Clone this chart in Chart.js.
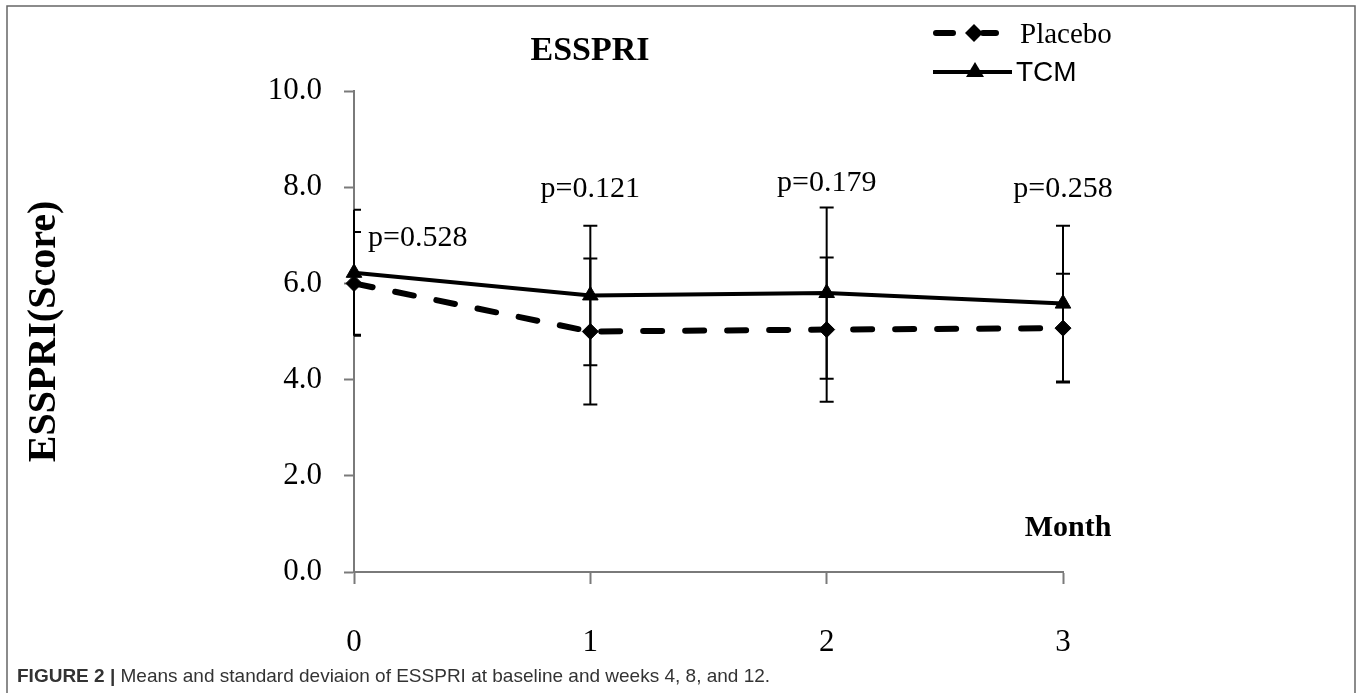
<!DOCTYPE html>
<html>
<head>
<meta charset="utf-8">
<script src="https://cdn.jsdelivr.net/npm/chart.js@4.4.1/dist/chart.umd.min.js"></script>
<style>
  html, body { margin: 0; padding: 0; background: #fff; }
  #wrap { width: 1360px; height: 693px; position: relative; }
</style>
</head>
<body>
<div id="wrap"><canvas id="myChart"></canvas></div>
<script>
// data
const months = [0, 1, 2, 3];
const yTicks = [0, 2, 4, 6, 8, 10];
const placeboMean = [6.00, 5.00, 5.04, 5.07];
const placeboSD = [1.07, 1.52, 1.50, 1.13];
const tcmMean = [6.22, 5.75, 5.80, 5.58];
const tcmSD = [1.31, 1.45, 1.78, 1.62];
const pValues = ["p=0.528", "p=0.121", "p=0.179", "p=0.258"];

const serif = "'Liberation Serif', 'Times New Roman', serif";
const sans = "'Liberation Sans', Arial, sans-serif";
const axisGray = "#7a7a7a";

// vertical SD bars with caps, drawn under the lines
const errorBars = {
  id: "errorBars",
  beforeDatasetsDraw(chart) {
    const { ctx, scales: { x, y } } = chart;
    ctx.save();
    ctx.strokeStyle = "#000";
    ctx.lineWidth = 2;
    [[placeboMean, placeboSD], [tcmMean, tcmSD]].forEach(([m, sd]) => {
      months.forEach((mo, i) => {
        const px = x.getPixelForValue(mo);
        const top = y.getPixelForValue(m[i] + sd[i]);
        const bot = y.getPixelForValue(m[i] - sd[i]);
        const capL = i === 0 ? 0 : 7;
        ctx.beginPath();
        ctx.moveTo(px, top); ctx.lineTo(px, bot);
        ctx.moveTo(px - capL, top); ctx.lineTo(px + 7, top);
        ctx.moveTo(px - capL, bot); ctx.lineTo(px + 7, bot);
        ctx.stroke();
      });
    });
    ctx.restore();
  }
};

// title, p values, axis label, legend, caption and frame
const extras = {
  id: "extras",
  afterDraw(chart) {
    const { ctx, scales: { x, y } } = chart;
    ctx.save();
    ctx.fillStyle = "#000";

    ctx.font = "bold 34px " + serif;
    ctx.textAlign = "center";
    ctx.textBaseline = "alphabetic";
    ctx.fillText("ESSPRI", 590, 60);

    // p values above the bars
    const pY = [6.95, 7.97, 8.09, 7.97];
    ctx.font = "30px " + serif;
    ctx.textBaseline = "middle";
    pValues.forEach((t, i) => {
      const px = x.getPixelForValue(months[i]);
      if (i === 0) {
        ctx.textAlign = "left";
        ctx.fillText(t, px + 14, y.getPixelForValue(pY[i]));
      } else {
        ctx.textAlign = "center";
        ctx.fillText(t, px, y.getPixelForValue(pY[i]));
      }
    });

    ctx.font = "bold 30px " + serif;
    ctx.textAlign = "center";
    ctx.fillText("Month", 1068, 528);

    // legend
    ctx.strokeStyle = "#000";
    ctx.lineWidth = 6;
    ctx.lineCap = "round";
    ctx.beginPath();
    ctx.moveTo(936, 33); ctx.lineTo(953, 33);
    ctx.moveTo(983, 33); ctx.lineTo(996, 33);
    ctx.stroke();
    ctx.beginPath();
    ctx.moveTo(974, 24); ctx.lineTo(983, 33); ctx.lineTo(974, 42); ctx.lineTo(965, 33);
    ctx.closePath(); ctx.fill();

    ctx.lineWidth = 4;
    ctx.lineCap = "butt";
    ctx.beginPath();
    ctx.moveTo(933, 72); ctx.lineTo(1012, 72);
    ctx.stroke();
    ctx.beginPath();
    ctx.moveTo(975, 62); ctx.lineTo(984, 77); ctx.lineTo(966, 77);
    ctx.closePath(); ctx.fill();

    ctx.textAlign = "left";
    ctx.textBaseline = "alphabetic";
    ctx.font = "29px " + serif;
    ctx.fillText("Placebo", 1020, 43);
    ctx.font = "28px " + sans;
    ctx.fillText("TCM", 1016, 81);

    // caption
    ctx.fillStyle = "#333";
    ctx.font = "bold 19px " + sans;
    const head = "FIGURE 2 | ";
    ctx.fillText(head, 17, 682);
    const w = ctx.measureText(head).width;
    ctx.font = "19px " + sans;
    ctx.fillText("Means and standard deviaion of ESSPRI at baseline and weeks 4, 8, and 12.", 17 + w, 682);

    // frame round the figure
    ctx.strokeStyle = "#666";
    ctx.lineWidth = 1.5;
    ctx.beginPath();
    ctx.moveTo(7, 700); ctx.lineTo(7, 6); ctx.lineTo(1355, 6); ctx.lineTo(1355, 700);
    ctx.stroke();
    ctx.restore();
  }
};

new Chart("myChart", {
  type: "line",
  data: {
    datasets: [{
      label: "Placebo",
      data: months.map((m, i) => ({ x: m, y: placeboMean[i] })),
      borderColor: "#000",
      backgroundColor: "#000",
      borderWidth: 6,
      borderDash: [19, 23],
      borderCapStyle: "round",
      pointStyle: "rectRot",
      pointRadius: 8,
      pointBorderWidth: 1,
      clip: false
    }, {
      label: "TCM",
      data: months.map((m, i) => ({ x: m, y: tcmMean[i] })),
      borderColor: "#000",
      backgroundColor: "#000",
      borderWidth: 4,
      pointStyle: "triangle",
      pointRadius: 9,
      pointBorderWidth: 1,
      clip: false
    }]
  },
  options: {
    responsive: true,
    maintainAspectRatio: false,
    animation: false,
    layout: { padding: { left: 21, top: 91, right: 297, bottom: 21 } },
    plugins: {
      legend: { display: false },
      tooltip: { enabled: false }
    },
    scales: {
      x: {
        type: "linear",
        min: 0,
        max: 3,
        afterBuildTicks: s => { s.ticks = months.map(v => ({ value: v })); },
        ticks: { padding: 40, color: "#000", font: { family: serif, size: 31 }, callback: v => String(v) },
        grid: { drawOnChartArea: false, tickLength: 12, tickColor: axisGray, tickWidth: 2 },
        border: { color: axisGray, width: 2 },
        afterFit: s => { s.height = 100; }
      },
      y: {
        min: 0,
        max: 10,
        afterBuildTicks: s => { s.ticks = yTicks.map(v => ({ value: v })); },
        ticks: { padding: 22, color: "#000", font: { family: serif, size: 31 }, callback: v => v.toFixed(1) },
        grid: { drawOnChartArea: false, tickLength: 10, tickColor: axisGray, tickWidth: 2 },
        border: { color: axisGray, width: 2 },
        title: { display: true, text: "ESSPRI(Score)", color: "#000", font: { family: serif, size: 40, weight: "bold" }, padding: 0 },
        afterFit: s => { s.width = 333; }
      }
    }
  },
  plugins: [errorBars, extras]
});
</script>
</body>
</html>
